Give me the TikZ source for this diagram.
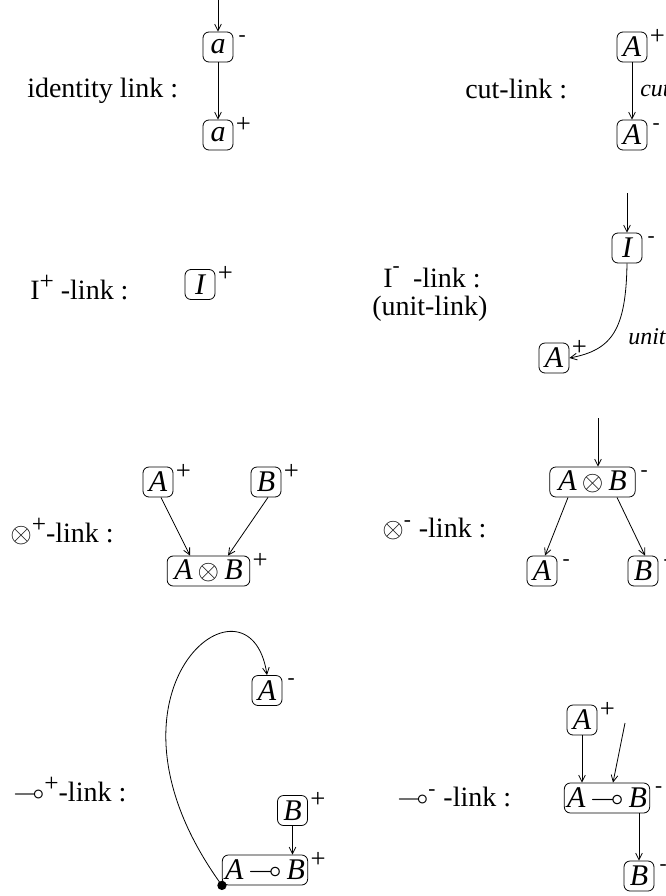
\documentclass[tikz,border=0pt]{standalone}
\usepackage{amssymb}
\usepackage{fontspec}
\setmainfont{Liberation Serif}
\usetikzlibrary{arrows.meta,calc}
\newcommand{\rsup}[2]{\raisebox{#1}{\fontsize{19}{19}\selectfont #2}}
\newcommand{\rmin}[1]{\raisebox{#1}{\fontsize{16}{16}\selectfont -}}
\begin{document}
\begin{tikzpicture}[x=0.75pt,y=-0.75pt,
  lbl/.style={anchor=base west,inner sep=0pt,font=\fontsize{21}{25}\selectfont},
  itl/.style={anchor=west,inner sep=0pt,font=\fontsize{18}{20}\selectfont\itshape},
  nd/.style={draw,line width=0.6pt,rounded corners=4.5pt,inner sep=0pt,inner xsep=2pt,
    minimum width=22.5pt,minimum height=22.5pt,font=\fontsize{22.5}{24}\selectfont\itshape},
  sup/.style={anchor=center,inner sep=0pt,font=\fontsize{20}{20}\selectfont},
  supm/.style={anchor=center,inner sep=0pt,font=\fontsize{16}{16}\selectfont},
  pl/.style={label={[sup,xshift=7.5pt,yshift=-4pt]north east:+}},
  mi/.style={label={[supm,xshift=6.5pt,yshift=-5pt]north east:-}},
  ar/.style={line width=0.6pt,-{Straight Barb[length=5pt,width=5pt]}},
  ln/.style={line width=0.6pt}]
\useasboundingbox (0,0) rectangle (666,896);
\clip (0,0) rectangle (666,896);

% identity link
\node[lbl] (tid) at (27,97) {identity link :};
\node[nd,mi] (a1) at (218,47) {a};
\node[nd,pl] (a2) at (218,135) {a};
\coordinate (t1) at (218,0);
\draw[ar] (t1) -- (a1.north);
\draw[ar] (a1.south) -- (a2.north);

% cut link
\node[lbl] (tcut) at (465,98) {cut-link :};
\node[nd,pl] (c1) at (632,47) {A};
\node[nd,mi] (c2) at (632,135) {A};
\draw[ar] (c1.south) -- (c2.north);
\node[itl] (cutl) at (640,90) {cut};

% I+ link
\node[lbl] (tip) at (30,299) {I\rsup{7pt}{+} -link :};
\node[nd,pl] (Ip) at (200,284.5) {I};

% I- link
\node[lbl] (tim) at (383,287) {I\rmin{11pt}\hspace{10pt}-link :};
\node[lbl] (tun) at (372,315) {(unit-link)};
\node[nd,mi] (Im) at (627,248) {I};
\coordinate (t2) at (627,193);
\draw[ar] (t2) -- (Im.north);
\node[nd,pl] (Au) at (554,358) {A};
\draw[ar] (Im.south) .. controls (626,330) and (612,350) .. (Au.east);
\node[itl] (unitl) at (628,337) {unit};

% tensor+ link
\node[lbl] (ttp) at (10,542) {$\otimes$\rsup{7pt}{+}-link :};
\node[nd,pl] (Ap1) at (158,482) {A};
\node[nd,pl] (Bp1) at (266,482) {B};
\node[nd,pl,minimum width=62pt] (ApB) at (208.5,571) {A\,$\otimes$\,B};
\draw[ar] ($(Ap1.south)+(3,0)$) -- ($(ApB.north)+(-18.5,0)$);
\draw[ar] ($(Bp1.south)+(2,0)$) -- ($(ApB.north)+(19.5,0)$);

% tensor- link
\node[lbl] (ttm) at (382,537) {$\otimes$\rmin{8pt}\hspace{6pt}-link :};
\node[nd,mi,minimum width=64pt] (ApBm) at (592.5,482) {A\,$\otimes$\,B};
\coordinate (t3) at (598,418);
\draw[ar] (t3) -- (t3 |- ApBm.north);
\node[nd,mi] (Am1) at (542,571) {A};
\node[nd,mi] (Bm1) at (643,571) {B};
\draw[ar] ($(ApBm.south)+(-24.5,0)$) -- ($(Am1.north)+(3,0)$);
\draw[ar] ($(ApBm.south)+(24.5,0)$) -- ($(Bm1.north)+(2,0)$);

% lollipop+ link
\node[lbl] (tlp) at (13,801) {$\multimap$\rsup{7pt}{+}-link :};
\node[nd,mi] (Am2) at (267,690.5) {A};
\node[nd,pl] (Bp2) at (292.5,810.5) {B};
\node[nd,pl,minimum width=63pt] (AlB) at (265,870) {A\,$\multimap$\,B};
\draw[ar] (Bp2.south) -- (Bp2.south |- AlB.north);
\node[circle,fill=black,inner sep=0pt,minimum size=7pt] (dot) at (AlB.south west) {};
\draw[ar] (dot.center) .. controls (80,690) and (250,560) .. (Am2.north);

% lollipop- link
\node[lbl] (tlm) at (397,806) {$\multimap$\rmin{8pt}\hspace{6pt}-link :};
\node[nd,pl] (Ap3) at (582,720) {A};
\node[nd,mi,minimum width=63pt] (AlBm) at (607,798) {A\,$\multimap$\,B};
\node[nd,mi] (Bm3) at (639,876) {B};
\coordinate (f3) at (625,723);
\draw[ar] (Ap3.south) -- (Ap3.south |- AlBm.north);
\draw[ar] (f3) -- ($(AlBm.north)+(6,0)$);
\draw[ar] (Bm3.north |- AlBm.south) -- (Bm3.north);
\end{tikzpicture}
\end{document}
